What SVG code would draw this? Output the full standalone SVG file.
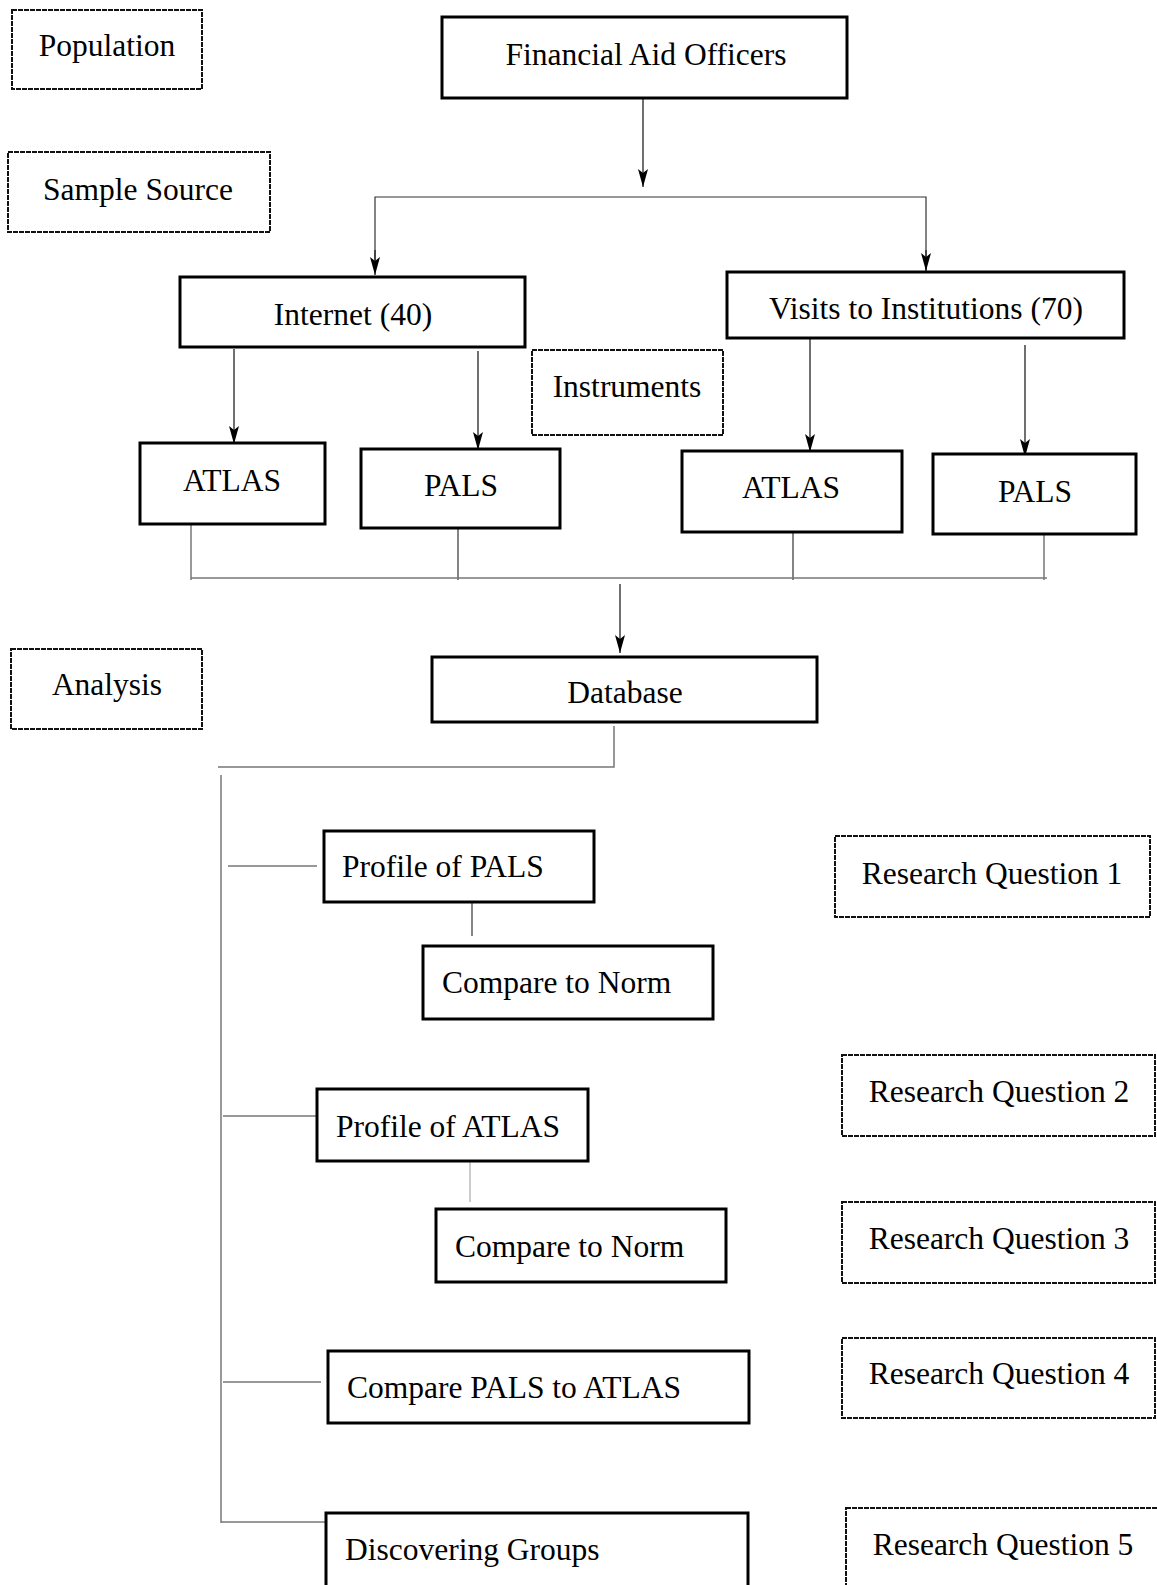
<svg xmlns="http://www.w3.org/2000/svg" width="1157" height="1585" viewBox="0 0 1157 1585">
  <style>
    .box { fill: #fff; stroke: #000; stroke-width: 3; }
    .label { fill: #fff; stroke: #111; stroke-width: 2; stroke-dasharray: 5 1; }
    .t { font-family: "Liberation Serif", "Times New Roman", serif; font-size: 31.5px; fill: #000; }
    .c { text-anchor: middle; }
    .arrow { fill: none; stroke: #222; stroke-width: 1.3; marker-end: url(#head); }
    .wire { fill: none; stroke: #333; stroke-width: 1.2; }
    .soft { fill: none; stroke: #777; stroke-width: 1.5; }
    .faint { fill: none; stroke: #aaa; stroke-width: 1.2; }
  </style>
  <defs>
    <marker id="head" markerUnits="userSpaceOnUse" markerWidth="20" markerHeight="14" refX="18" refY="7" orient="auto">
      <path d="M0,2 L18,7 L0,12 L4,7 z" fill="#000"/>
    </marker>
  </defs>
  <rect width="1157" height="1585" fill="#fff"/>

  <!-- connectors -->
  <g id="connectors">
    <!-- officers split into the two sample sources -->
    <line class="arrow" x1="643" y1="98" x2="643" y2="187"/>
    <polyline class="wire" points="375,272 375,197 926,197 926,270"/>
    <line class="arrow" x1="375" y1="250" x2="375" y2="275"/>
    <line class="arrow" x1="926" y1="250" x2="926" y2="271"/>
    <!-- sources to instruments -->
    <line class="arrow" x1="234" y1="349" x2="234" y2="444"/>
    <line class="arrow" x1="478" y1="351" x2="478" y2="450"/>
    <line class="arrow" x1="810" y1="339" x2="810" y2="452"/>
    <line class="arrow" x1="1025" y1="345" x2="1025" y2="457"/>
    <!-- instruments merge into the database -->
    <line class="soft" x1="191" y1="525" x2="191" y2="580"/>
    <line class="wire" x1="458" y1="527" x2="458" y2="580"/>
    <line class="wire" x1="793" y1="533" x2="793" y2="580"/>
    <line class="soft" x1="1044" y1="535" x2="1044" y2="580"/>
    <line class="soft" x1="191" y1="578" x2="1047" y2="578"/>
    <line class="arrow" x1="620" y1="584" x2="620" y2="653"/>
    <!-- analysis tree -->
    <polyline class="soft" points="614,726 614,767 218,767"/>
    <line class="soft" x1="221" y1="775" x2="221" y2="1523"/>
    <line class="wire" x1="228" y1="866" x2="317" y2="866"/>
    <line class="wire" x1="472" y1="903" x2="472" y2="936"/>
    <line class="wire" x1="223" y1="1116" x2="316" y2="1116"/>
    <line class="faint" x1="470" y1="1156" x2="470" y2="1202"/>
    <line class="wire" x1="223" y1="1382" x2="321" y2="1382"/>
    <line class="soft" x1="221" y1="1522" x2="325" y2="1522"/>
  </g>

  <!-- side labels -->
  <g id="population"><rect class="label" x="12" y="10" width="190" height="79"/><text class="t c" x="107" y="56">Population</text></g>
  <g id="sample-source"><rect class="label" x="8" y="152" width="262" height="80"/><text class="t c" x="138" y="200">Sample Source</text></g>
  <g id="instruments"><rect class="label" x="532" y="350" width="191" height="85"/><text class="t c" x="627" y="397">Instruments</text></g>
  <g id="analysis"><rect class="label" x="11" y="649" width="191" height="80"/><text class="t c" x="107" y="695">Analysis</text></g>

  <!-- flow nodes -->
  <g id="officers"><rect class="box" x="442" y="17" width="405" height="81"/><text class="t c" x="646" y="65">Financial Aid Officers</text></g>
  <g id="internet"><rect class="box" x="180" y="277" width="345" height="70"/><text class="t c" x="353" y="325">Internet (40)</text></g>
  <g id="visits"><rect class="box" x="727" y="272" width="397" height="66"/><text class="t c" x="926" y="319">Visits to Institutions (70)</text></g>
  <g id="atlas-internet"><rect class="box" x="140" y="443" width="185" height="81"/><text class="t c" x="232" y="491">ATLAS</text></g>
  <g id="pals-internet"><rect class="box" x="361" y="449" width="199" height="79"/><text class="t c" x="461" y="496">PALS</text></g>
  <g id="atlas-visits"><rect class="box" x="682" y="451" width="220" height="81"/><text class="t c" x="791" y="498">ATLAS</text></g>
  <g id="pals-visits"><rect class="box" x="933" y="454" width="203" height="80"/><text class="t c" x="1035" y="502">PALS</text></g>
  <g id="database"><rect class="box" x="432" y="657" width="385" height="65"/><text class="t c" x="625" y="703">Database</text></g>

  <g id="profile-pals"><rect class="box" x="324" y="831" width="270" height="71"/><text class="t" x="342" y="877">Profile of PALS</text></g>
  <g id="norm-pals"><rect class="box" x="423" y="946" width="290" height="73"/><text class="t" x="442" y="993">Compare to Norm</text></g>
  <g id="profile-atlas"><rect class="box" x="317" y="1089" width="271" height="72"/><text class="t" x="336" y="1137">Profile of ATLAS</text></g>
  <g id="norm-atlas"><rect class="box" x="436" y="1209" width="290" height="73"/><text class="t" x="455" y="1257">Compare to Norm</text></g>
  <g id="pals-vs-atlas"><rect class="box" x="328" y="1351" width="421" height="72"/><text class="t" x="347" y="1398">Compare PALS to ATLAS</text></g>
  <g id="groups"><rect class="box" x="326" y="1513" width="422" height="90"/><text class="t" x="345" y="1560">Discovering Groups</text></g>

  <!-- research questions -->
  <g id="rq1"><rect class="label" x="835" y="836" width="315" height="81"/><text class="t c" x="992" y="884">Research Question 1</text></g>
  <g id="rq2"><rect class="label" x="842" y="1055" width="313" height="81"/><text class="t c" x="999" y="1102">Research Question 2</text></g>
  <g id="rq3"><rect class="label" x="842" y="1202" width="313" height="81"/><text class="t c" x="999" y="1249">Research Question 3</text></g>
  <g id="rq4"><rect class="label" x="842" y="1338" width="313" height="80"/><text class="t c" x="999" y="1384">Research Question 4</text></g>
  <g id="rq5"><rect class="label" x="846" y="1508" width="320" height="95"/><text class="t c" x="1003" y="1555">Research Question 5</text></g>
</svg>
